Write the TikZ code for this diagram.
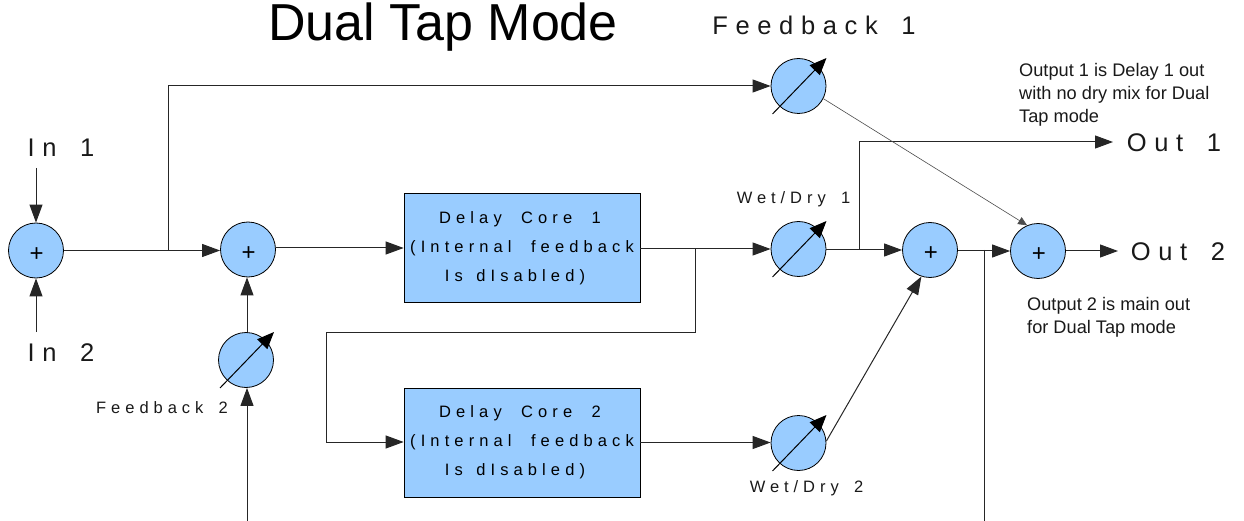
\documentclass[tikz,border=0pt]{standalone}
\usepackage{fontspec}
\setmainfont{Liberation Sans}
\usetikzlibrary{arrows.meta,calc}
\newfontfamily\spaced[LetterSpace=31,WordSpace=2]{Liberation Sans}
\newfontfamily\spacedlbl[LetterSpace=30,WordSpace=1.6]{Liberation Sans}
\definecolor{blue1}{HTML}{99CCFF}
\tikzset{
  x=1pt,y=-1pt,
  wire/.style={line width=1pt,draw=black!85,-{Triangle[length=18pt,width=13pt]}},
  plain/.style={line width=1pt,draw=black!85},
  thinarrow/.style={line width=0.6pt,draw=black!70,-{Triangle[length=9pt,width=8pt]}},
  knobarrow/.style={line width=1pt,draw=black,-{Triangle[length=17pt,width=14pt]}},
  disc/.style={circle,draw=black,line width=0.8pt,fill=blue1,minimum size=55pt,inner sep=0pt,font=\fontsize{24}{24}\selectfont},
  corebox/.style={rectangle,draw=black,line width=0.7pt,fill=blue1,minimum width=236pt,minimum height=109pt,inner sep=0pt,align=center,font=\fontsize{16.5}{29}\spaced},
  biglabel/.style={inner sep=0pt,font=\fontsize{25.5}{25.5}\spacedlbl,text=black!90},
  smalllabel/.style={inner sep=0pt,font=\fontsize{16.5}{16.5}\spacedlbl,text=black!90},
  note/.style={inner sep=0pt,align=left,anchor=north west,font=\fontsize{18.2}{23.3}\selectfont,text=black!90},
}
\newcommand{\knob}[1]{\draw[knobarrow] ([shift={(-26,28)}]#1.center) -- ([shift={(28,-28)}]#1.center);}
\newcommand{\plus}{\hspace{1.5pt}\raisebox{-11pt}[0pt][0pt]{+}}
\begin{document}
\begin{tikzpicture}
\useasboundingbox (0,0) rectangle (1244,521);
\node[inner sep=0pt,anchor=base,font=\fontsize{52}{52}\selectfont] (title) at (443,41) {Dual Tap Mode};

\node[disc] (s1) at (36,250.5) {\plus};
\node[disc] (s2) at (248,249.5) {\plus};
\node[disc] (fb2) at (246,360) {};
\node[disc] (fb1) at (798.5,86) {};
\node[disc] (wd1) at (798.5,249) {};
\node[disc] (wd2) at (798.5,443) {};
\node[disc] (s3) at (930,250) {\plus};
\node[disc] (s4) at (1038,251) {\plus};
\node[corebox] (c1) at (522,248) {\hspace*{-4pt}Delay Core 1\\(Internal feedback\\\hspace*{-14pt}Is\hspace{-6pt} dIsabled)};
\node[corebox] (c2) at (522,442.5) {\hspace*{-4pt}Delay Core 2\\(Internal feedback\\\hspace*{-14pt}Is\hspace{-6pt} dIsabled)};

\node[biglabel] (in1) at (61,148) {In 1};
\node[biglabel] (in2) at (61,353) {In 2};
\node[biglabel] (lfb1) at (814,25) {Feedback 1};
\node[biglabel] (out1) at (1174,143) {Out 1};
\node[biglabel] (out2) at (1178,252) {Out 2};
\node[smalllabel] (lfb2) at (162,408) {Feedback 2};
\node[smalllabel] (lwd1) at (793.5,199) {Wet/Dry 1};
\node[smalllabel] (lwd2) at (806.5,488) {Wet/Dry 2};
\node[note] (n1) at (1019,63) {Output 1 is Delay 1 out\\with no dry mix for Dual\\Tap mode};
\node[note] (n2) at (1027,297) {Output 2 is main out\\for Dual Tap mode};

\coordinate (in1end) at (36,168);
\coordinate (in2end) at (36,332);
\coordinate (bfb) at (168,250);
\coordinate (tfb) at (168,86);
\coordinate (dtap) at (695,249);
\coordinate (d1) at (695,332);
\coordinate (d2) at (326,332);
\coordinate (d3) at (326,442);
\coordinate (wtap) at (859,250);
\coordinate (wtop) at (859,142);
\coordinate (outtip1) at (1113,142);
\coordinate (outtip2) at (1118,251);
\coordinate (rtap) at (984.5,250);
\coordinate (rbot) at (984.5,521);
\coordinate (vx) at (247,521);

\draw[wire] (in1end) -- (s1.north);
\draw[wire] (in2end) -- (s1.south);
\draw[wire] (s1.east) -- (s1.east -| s2.west);
\draw[wire] (bfb) -- (tfb) -- (fb1.west);
\draw[wire] (s2.east |- c1.west) -- (c1.west);
\draw[wire] (vx |- fb2.north) -- (vx |- s2.south);
\draw[wire] (vx) -- (vx |- fb2.south);
\draw[wire] (c1.east |- wd1.west) -- (wd1.west);
\draw[wire] (dtap) -- (d1) -- (d2) -- (d3) -- (d3 -| c2.west);
\draw[wire] (c2.east) -- (c2.east -| wd2.west);
\draw[wire] (wd1.east |- s3.west) -- (s3.west);
\draw[wire] (wtap) -- (wtop) -- (outtip1);
\draw[wire] (wd2.east) ++(0,-2) -- (s3.-108);
\draw[wire] (s3.east |- s4.west) -- (s4.west);
\draw[plain] (rtap) -- (rbot);
\draw[wire] (s4.east) -- (outtip2);
\draw[thinarrow] (fb1.-27) -- (s4.113);
\knob{fb1}\knob{fb2}\knob{wd1}\knob{wd2}
\end{tikzpicture}
\end{document}
